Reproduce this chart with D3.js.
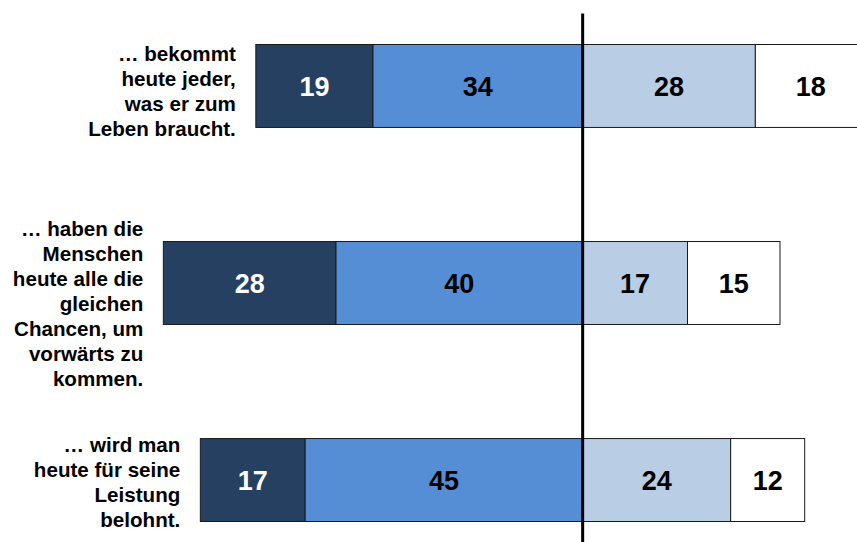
<!DOCTYPE html>
<html>
<head>
<meta charset="utf-8">
<script src="https://cdn.jsdelivr.net/npm/d3@7"></script>
<style>
  html, body { margin: 0; padding: 0; background: #fff; }
  svg { display: block; }
</style>
</head>
<body>
<svg id="chart" width="857" height="542"></svg>
<script>
// ---------- data ----------
const categories = ["bekommt", "chancen", "leistung"];
const labelLines = [
  ["… bekommt", "heute jeder,", "was er zum", "Leben braucht."],
  ["… haben die", "Menschen", "heute alle die", "gleichen", "Chancen, um", "vorwärts zu", "kommen."],
  ["… wird man", "heute für seine", "Leistung", "belohnt."]
];
const disagreeStrong = [19, 28, 17];  // dark navy (left, outer)
const disagree       = [34, 40, 45];  // medium blue (left, inner)
const agree          = [28, 17, 24];  // light blue (right, inner)
const agreeStrong    = [18, 15, 12];  // white (right, outer)

// ---------- layout ----------
const W = 857, H = 542;
const labelNudge = [5, 21, 2];
const colors = { ds: "#254061", d: "#558ED5", a: "#B9CDE5", as: "#FFFFFF" };
const textColors = { ds: "#FFFFFF", d: "#000000", a: "#000000", as: "#000000" };

const svg = d3.select("#chart");

const x = d3.scaleLinear().domain([-70, 50]).range([151, 891]);
const y = d3.scaleBand().domain(categories).range([44.5, 521.5]).paddingInner(0.579).paddingOuter(0);

const rows = categories.map((c, i) => ({
  cat: c, i,
  segs: [
    { key: "ds", v: disagreeStrong[i], x0: -(disagreeStrong[i] + disagree[i]), x1: -disagree[i] },
    { key: "d",  v: disagree[i],       x0: -disagree[i], x1: 0 },
    { key: "a",  v: agree[i],          x0: 0, x1: agree[i] },
    { key: "as", v: agreeStrong[i],    x0: agree[i], x1: agree[i] + agreeStrong[i] }
  ]
}));

const g = svg.append("g");

const rowG = g.selectAll("g.row").data(rows).join("g").attr("class", "row");

rowG.selectAll("rect").data(d => d.segs.map(s => ({ ...s, cat: d.cat })))
  .join("rect")
  .attr("x", s => x(s.x0))
  .attr("y", s => y(s.cat))
  .attr("width", s => x(s.x1) - x(s.x0))
  .attr("height", y.bandwidth())
  .attr("fill", s => colors[s.key])
  .attr("stroke", "#1a1a1a")
  .attr("stroke-width", 1);

rowG.selectAll("text.val").data(d => d.segs.map(s => ({ ...s, cat: d.cat })))
  .join("text")
  .attr("class", "val")
  .attr("x", s => (x(s.x0) + x(s.x1)) / 2)
  .attr("y", s => y(s.cat) + y.bandwidth() / 2)
  .attr("dy", "0.36em")
  .attr("text-anchor", "middle")
  .attr("font-family", "Liberation Sans, Arial, sans-serif")
  .attr("font-weight", "bold")
  .attr("font-size", 27)
  .attr("fill", s => textColors[s.key])
  .text(s => s.v);

// category labels
const lh = 25;
rowG.each(function(d) {
  const lines = labelLines[d.i];
  const cy = y(d.cat) + y.bandwidth() / 2 + labelNudge[d.i];
  const lx = x(d.segs[0].x0) - 20;
  const t = d3.select(this).append("text")
    .attr("text-anchor", "end")
    .attr("font-family", "Liberation Sans, Arial, sans-serif")
    .attr("font-weight", "bold")
    .attr("font-size", 20.6)
    .attr("fill", "#000");
  lines.forEach((ln, k) => {
    t.append("tspan")
      .attr("x", lx)
      .attr("y", cy + (k - (lines.length - 1) / 2) * lh)
      .attr("dy", "0.35em")
      .text(ln);
  });
});

// center line
g.append("line")
  .attr("x1", x(0)).attr("x2", x(0))
  .attr("y1", y(categories[0]) - 31).attr("y2", H)
  .attr("stroke", "#000")
  .attr("stroke-width", 3);
</script>
</body>
</html>
